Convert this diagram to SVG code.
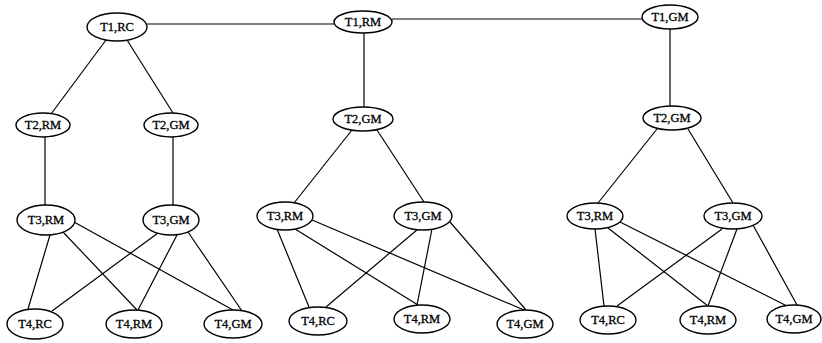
<svg xmlns="http://www.w3.org/2000/svg" width="822" height="343" viewBox="0 0 822 343">
<style>
.n ellipse{fill:#fff;stroke:#000;stroke-width:1.4}
.n text{font-family:"Liberation Serif","Times New Roman",serif;font-size:12.5px;fill:#000;stroke:#000;stroke-width:0.3;text-anchor:middle;dominant-baseline:central}
#edges line{stroke:#000;stroke-width:1.2}
</style>
<rect width="822" height="343" fill="#fff"/>
<g id="edges">
<line x1="147" y1="24" x2="334" y2="24"/>
<line x1="392" y1="19" x2="642" y2="19"/>
<line x1="106" y1="40" x2="51" y2="114"/>
<line x1="127" y1="40" x2="173" y2="113"/>
<line x1="45" y1="137" x2="45" y2="205"/>
<line x1="173" y1="137" x2="173" y2="205"/>
<line x1="50" y1="235" x2="28" y2="309"/>
<line x1="63" y1="232" x2="137" y2="310"/>
<line x1="74" y1="222" x2="233" y2="310"/>
<line x1="158" y1="233" x2="52" y2="311"/>
<line x1="177" y1="235" x2="138" y2="310"/>
<line x1="188" y1="232" x2="242" y2="311"/>
<line x1="364" y1="33" x2="364" y2="107"/>
<line x1="352" y1="130" x2="294" y2="203"/>
<line x1="377" y1="130" x2="424" y2="202"/>
<line x1="277" y1="229" x2="309" y2="307"/>
<line x1="295" y1="229" x2="418" y2="305"/>
<line x1="312" y1="220" x2="524" y2="310"/>
<line x1="418" y1="229" x2="326" y2="307"/>
<line x1="432" y1="229" x2="417" y2="305"/>
<line x1="450" y1="222" x2="526" y2="310"/>
<line x1="670" y1="29" x2="670" y2="106"/>
<line x1="657" y1="129" x2="598" y2="203"/>
<line x1="688" y1="129" x2="733" y2="203"/>
<line x1="595" y1="229" x2="604" y2="306"/>
<line x1="608" y1="228" x2="708" y2="306"/>
<line x1="620" y1="222" x2="787" y2="306"/>
<line x1="722" y1="229" x2="617" y2="306"/>
<line x1="737" y1="229" x2="708" y2="306"/>
<line x1="753" y1="225" x2="797" y2="305"/>
</g>
<g id="a_t1rc" class="n"><ellipse cx="117" cy="27" rx="30" ry="14"/><text x="117" y="27">T1,RC</text></g>
<g id="a_t2rm" class="n"><ellipse cx="43" cy="125" rx="27" ry="12"/><text x="43" y="125">T2,RM</text></g>
<g id="a_t2gm" class="n"><ellipse cx="171" cy="125" rx="27" ry="12"/><text x="171" y="125">T2,GM</text></g>
<g id="a_t3rm" class="n"><ellipse cx="46" cy="220" rx="29" ry="15"/><text x="46" y="220">T3,RM</text></g>
<g id="a_t3gm" class="n"><ellipse cx="171" cy="220" rx="28" ry="15"/><text x="171" y="220">T3,GM</text></g>
<g id="a_t4rc" class="n"><ellipse cx="35" cy="324" rx="28" ry="15"/><text x="35" y="324">T4,RC</text></g>
<g id="a_t4rm" class="n"><ellipse cx="134" cy="324" rx="28" ry="14"/><text x="134" y="324">T4,RM</text></g>
<g id="a_t4gm" class="n"><ellipse cx="233" cy="324" rx="29" ry="14"/><text x="233" y="324">T4,GM</text></g>
<g id="b_t1rm" class="n"><ellipse cx="363" cy="22" rx="29" ry="11"/><text x="363" y="22">T1,RM</text></g>
<g id="b_t2gm" class="n"><ellipse cx="363" cy="119" rx="30" ry="12"/><text x="363" y="119">T2,GM</text></g>
<g id="b_t3rm" class="n"><ellipse cx="285" cy="216" rx="28" ry="14"/><text x="285" y="216">T3,RM</text></g>
<g id="b_t3gm" class="n"><ellipse cx="423" cy="216" rx="29" ry="14"/><text x="423" y="216">T3,GM</text></g>
<g id="b_t4rc" class="n"><ellipse cx="318" cy="321" rx="29" ry="14"/><text x="318" y="321">T4,RC</text></g>
<g id="b_t4rm" class="n"><ellipse cx="422" cy="319" rx="28" ry="14"/><text x="422" y="319">T4,RM</text></g>
<g id="b_t4gm" class="n"><ellipse cx="525" cy="324" rx="28" ry="14"/><text x="525" y="324">T4,GM</text></g>
<g id="c_t1gm" class="n"><ellipse cx="670" cy="17" rx="28" ry="12"/><text x="670" y="17">T1,GM</text></g>
<g id="c_t2gm" class="n"><ellipse cx="672" cy="118" rx="29" ry="12"/><text x="672" y="118">T2,GM</text></g>
<g id="c_t3rm" class="n"><ellipse cx="595" cy="216" rx="28" ry="13"/><text x="595" y="216">T3,RM</text></g>
<g id="c_t3gm" class="n"><ellipse cx="733" cy="216" rx="29" ry="13"/><text x="733" y="216">T3,GM</text></g>
<g id="c_t4rc" class="n"><ellipse cx="608" cy="320" rx="28" ry="14"/><text x="608" y="320">T4,RC</text></g>
<g id="c_t4rm" class="n"><ellipse cx="708" cy="320" rx="28" ry="14"/><text x="708" y="320">T4,RM</text></g>
<g id="c_t4gm" class="n"><ellipse cx="794" cy="319" rx="27" ry="14"/><text x="794" y="319">T4,GM</text></g>
</svg>
